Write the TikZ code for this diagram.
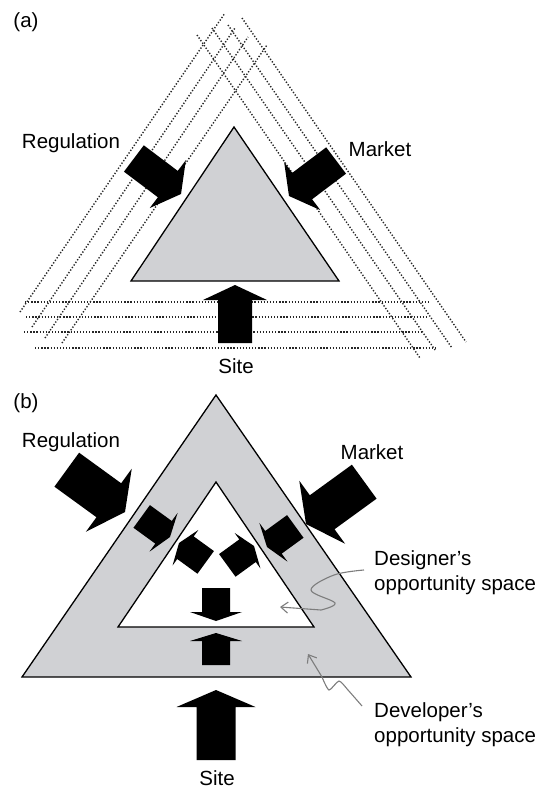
\documentclass[tikz,border=0pt]{standalone}
\usepackage{fontspec}
\setmainfont{Liberation Sans}
\usetikzlibrary{arrows.meta}
\definecolor{lightgr}{RGB}{208,209,212}
\definecolor{pointgr}{RGB}{125,125,125}
\tikzset{
  dotline/.style={line width=1.4pt,dash pattern=on 1.3pt off 1.8pt,black!85},
  tri/.style={draw,line width=1.3pt},
  lbl/.style={font=\fontsize{20.5}{24}\selectfont,inner sep=0pt},
  pointer/.style={draw=pointgr,line width=1.1pt,-{Straight Barb[length=7pt,width=11pt]}}
}
\newcommand{\fatarrow}[7]{% tip x, tip y, angle, length, shaft half width, head half width, head length
  \fill[shift={(#1,#2)},rotate=#3] (0,0) -- (-#7,#6) -- (-#7,#5) -- (-#4,#5) -- (-#4,-#5) -- (-#7,-#5) -- (-#7,-#6) -- cycle;}
\begin{document}
\begin{tikzpicture}[x=1pt,y=-1pt]
	\useasboundingbox (0,0) rectangle (548,790);
				\node[lbl] (a) at (26,22) {(a)};
				\draw[dotline] (20,312)--(225,13);
				\draw[dotline] (32,327)--(235,28);
				\draw[dotline] (45,338)--(248,37);
				\draw[dotline] (62,343)--(267,45);
				\draw[dotline] (197,35)--(420,358);
				\draw[dotline] (212,28)--(435,350);
				\draw[dotline] (228,25)--(452,348);
				\draw[dotline] (242,18)--(466,342);
				\draw[dotline] (25,302)--(430,302);
				\draw[dotline] (26,317)--(427,317);
				\draw[dotline] (24,332)--(422,332);
				\draw[dotline] (35,348)--(435,348);
				\fill[white] (234,127)--(131,281)--(339,281)--cycle;
				\draw[tri,fill=lightgr] (234,127)--(131,281)--(339,281)--cycle;
				\fatarrow{235}{285}{90}{58}{17}{32}{15}
				\fatarrow{181}{194}{-37}{59}{16.5}{30}{16.5}
				\fatarrow{289}{196}{-143}{59}{16.5}{30}{16.5}
				\node[lbl] (rega) at (71,143) {Regulation};
				\node[lbl] (marka) at (380,149) {Market};
				\node[lbl] (sitea) at (236,366) {Site};
				\node[lbl] (b) at (26,403) {(b)};
				\draw[tri,fill=lightgr] (216,395)--(22,677)--(411,677)--cycle;
				\draw[tri,fill=white] (216,482)--(118,627)--(314,627)--cycle;
				\fatarrow{216}{690}{90}{70}{19.5}{39.5}{17}
				\fatarrow{216}{633}{90}{32}{14}{26}{8}
				\fatarrow{216}{621}{-90}{33}{14}{26}{9}
				\fatarrow{125}{512}{-36}{72}{21}{39}{20}
				\fatarrow{306}{524}{-144}{72}{21}{39}{20}
				\fatarrow{170}{537}{-36}{35}{14}{24}{8}
				\fatarrow{267}{547}{-144}{35}{14}{24}{8}
				\fatarrow{179}{543}{144}{33}{14}{22}{8}
				\fatarrow{254}{546}{36}{33}{14}{22}{8}
				\node[lbl] (regb) at (71,442) {Regulation};
				\node[lbl] (markb) at (372,452) {Market};
				\node[lbl] (siteb) at (217,778) {Site};
				\node[lbl,anchor=west] (des1) at (374,560) {Designer’s};
				\node[lbl,anchor=west] (des2) at (374,585) {opportunity space};
				\node[lbl,anchor=west] (dev1) at (374,712) {Developer’s};
				\node[lbl,anchor=west] (dev2) at (374,737) {opportunity space};
				\coordinate (desstart) at (364,570);
				\coordinate (destip) at (280,607);
				\coordinate (devstart) at (362,706);
				\coordinate (devtip) at (308,654);
				\draw[pointer] plot[smooth,tension=.6] coordinates {(desstart) (334,575) (311,590) (335,603) (321,610)} -- (destip);
				\draw[pointer] plot[smooth,tension=.4] coordinates {(devstart) (348,690) (339,681) (329,690) (322,677)} -- (devtip);
	\end{tikzpicture}
\end{document}
